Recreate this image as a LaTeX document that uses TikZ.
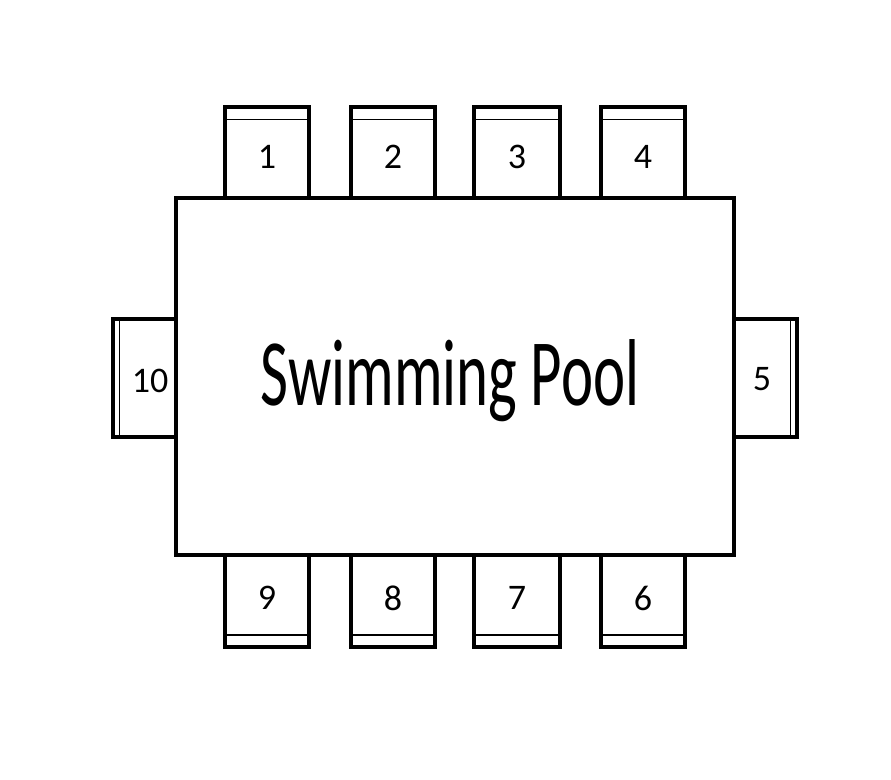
\documentclass[tikz,border=0pt]{standalone}
\usepackage{fontspec}
\setmainfont{Carlito}
\begin{document}
\begin{tikzpicture}[x=1pt,y=-1pt,
  thick line/.style={line width=3.4pt,line cap=rect},
  thin line/.style={line width=1.3pt},
  num/.style={font=\fontsize{36}{36}\selectfont,inner sep=0pt}]
\useasboundingbox (0,0) rectangle (891,779);
% top chairs
\foreach \a/\b/\n/\nm in {225/309/1/c1,351/435/2/c2,474/560/3/c3,601/685/4/c4}{
  \draw[thick line] (\a,198) -- (\a,107) -- (\b,107) -- (\b,198);
  \draw[thin line] (\a,119.5) -- (\b,119.5);
  \node[num] (\nm) at ({(\a+\b)/2},157) {\n};
}
% bottom chairs
\foreach \a/\b/\n/\nm in {225/309/9/c9,351/435/8/c8,474/560/7/c7,601/685/6/c6}{
  \draw[thick line] (\a,555) -- (\a,647) -- (\b,647) -- (\b,555);
  \draw[thin line] (\a,635) -- (\b,635);
  \node[num] (\nm) at ({(\a+\b)/2},598) {\n};
}
% left chair 10
\draw[thick line] (176,319) -- (113,319) -- (113,437) -- (176,437);
\draw[thin line] (119.5,319) -- (119.5,437);
\node[num] (c10) at (150,381) {10};
% right chair 5
\draw[thick line] (734,319) -- (797,319) -- (797,437) -- (734,437);
\draw[thin line] (790.5,319) -- (790.5,437);
\node[num] (c5) at (762,379) {5};
% pool
\node[draw,line width=3.2pt,minimum width=558pt,minimum height=357pt,inner sep=0pt] (pool) at (455,376.5) {};
\node[inner sep=0pt,anchor=base,xscale=0.64,font=\fontsize{95}{95}\selectfont] (label) at (450,405) {Swimming Pool};
\end{tikzpicture}
\end{document}
